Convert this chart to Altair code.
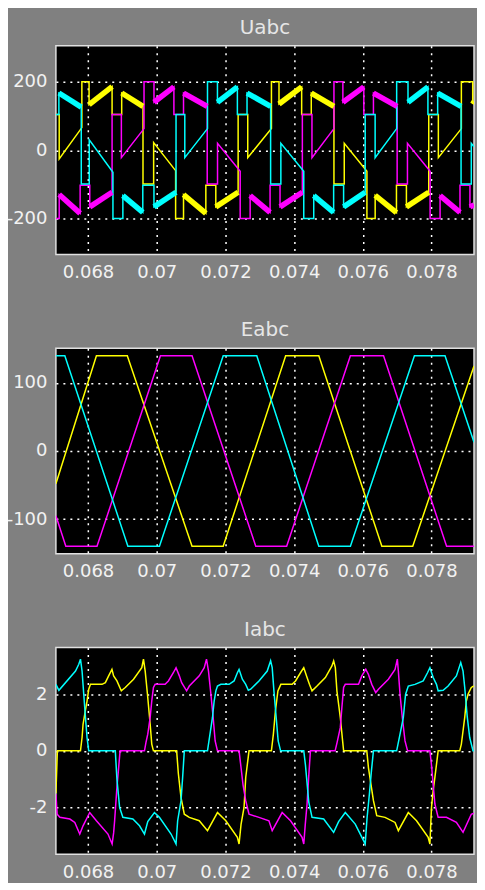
import altair as alt
import pandas as pd

# ---------------- data (time in ms, value) ----------------
# Uabc : phase voltages (a = yellow, b = magenta, c = cyan)
UA = [(67.064,104),(67.16,104),(67.16,-26),(67.82,66),(67.82,200),(68.03,200),(68.03,133),(68.70,186),
      (68.70,104),(68.98,104),(68.98,167),(69.60,128),(69.60,-99),(69.91,-99),(69.91,22),(70.55,-60),
      (70.55,-200),(70.78,-200),(70.78,-130),(71.43,-185),(71.43,-103),(71.72,-103),(71.72,-166),(72.37,-123),
      (72.37,104),(72.65,104),(72.65,-22),(73.34,63),(73.34,200),(73.56,200),(73.56,135),(74.22,185),
      (74.22,104),(74.50,104),(74.50,167),(75.16,128),(75.16,-99),(75.46,-99),(75.46,20),(76.12,-62),
      (76.12,-200),(76.36,-200),(76.36,-132),(76.98,-183),(76.98,-103),(77.27,-103),(77.27,-166),(77.92,-123),
      (77.92,104),(78.20,104),(78.20,-22),(78.87,63),(78.87,200),(79.20,200),(79.20,135),(79.238,142)]
UA_BANDS = [6, 10, 18, 22, 30, 34, 42, 46, 54]

UB = [(67.064,-200),(67.16,-200),(67.16,-130),(67.77,-185),(67.77,-103),(68.05,-103),(68.05,-166),(68.70,-123),
      (68.70,104),(68.97,104),(68.97,-22),(69.63,63),(69.63,200),(69.92,200),(69.92,140),(70.50,185),
      (70.50,104),(70.78,104),(70.78,167),(71.47,128),(71.47,-99),(71.77,-99),(71.77,20),(72.43,-62),
      (72.43,-200),(72.72,-200),(72.72,-133),(73.30,-182),(73.30,-103),(73.59,-103),(73.59,-166),(74.24,-123),
      (74.24,104),(74.52,104),(74.52,-22),(75.16,63),(75.16,200),(75.42,200),(75.42,140),(76.03,185),
      (76.03,104),(76.31,104),(76.31,167),(77.00,128),(77.00,-99),(77.30,-99),(77.30,20),(77.96,-62),
      (77.96,-200),(78.25,-200),(78.25,-133),(78.83,-182),(78.83,-103),(79.12,-103),(79.12,-166),(79.238,-160)]
UB_BANDS = [2, 6, 14, 18, 26, 30, 38, 42, 50, 54]

UC = [(67.064,104),(67.151,104),(67.151,167),(67.803,126),(67.803,-99),(68.035,-99),(68.035,30),(68.725,-65),
      (68.725,-200),(69.014,-200),(69.014,-133),(69.594,-182),(69.594,-103),(69.919,-103),(69.919,-166),(70.562,-123),
      (70.562,104),(70.817,104),(70.817,-22),(71.478,63),(71.478,200),(71.768,200),(71.768,140),(72.348,185),
      (72.348,104),(72.629,104),(72.629,167),(73.316,128),(73.316,-99),(73.614,-99),(73.614,20),(74.281,-62),
      (74.281,-200),(74.571,-200),(74.571,-133),(75.151,-182),(75.151,-103),(75.441,-103),(75.441,-166),(76.070,-123),
      (76.070,104),(76.359,104),(76.359,-22),(76.986,63),(76.986,200),(77.316,200),(77.316,140),(77.896,185),
      (77.896,104),(78.180,104),(78.180,167),(78.861,128),(78.861,-99),(79.159,-99),(79.159,20),(79.238,10)]
UC_BANDS = [2, 10, 14, 22, 26, 34, 38, 46, 50]

# Eabc : back EMF
EA = [(67.064,-48),(68.244,140),(69.143,140),(71.028,-140),(71.935,-140),(73.754,140),(74.719,140),
      (76.555,-140),(77.454,-140),(79.238,125)]
EB = [(67.064,-95),(67.353,-140),(68.261,-140),(70.108,140),(71.028,140),(72.884,-140),(73.783,-140),
      (75.639,140),(76.604,140),(78.44,-140),(79.238,-140)]
EC = [(67.064,140),(67.324,140),(69.16,-140),(70.079,-140),(71.935,140),(72.913,140),(74.719,-140),
      (75.639,-140),(77.503,140),(78.394,140),(79.238,13)]

# Iabc : phase currents
IA = [(67.064,-1.5),(67.107,0),(67.780,0),(67.826,0.47),(67.855,0.94),(67.904,1.3),(67.971,1.76),(68.020,2.18),
      (68.070,2.35),(68.406,2.35),(68.504,2.41),(68.600,2.65),(68.696,2.88),(68.745,2.65),(68.841,2.47),(68.968,2.12),
      (69.084,2.24),(69.325,2.53),(69.565,2.94),(69.614,3.24),(69.664,2.82),(69.730,2.0),(69.809,0.94),(69.855,0.24),
      (69.904,0),(70.580,0),(70.629,-0.8),(70.707,-1.65),(70.803,-2.24),(70.948,-2.35),(71.238,-2.47),(71.478,-2.82),
      (71.768,-2.18),(72.012,-2.47),(72.348,-3.06),(72.397,-3.29),(72.455,-2.6),(72.542,-2.0),(72.591,-0.94),(72.687,0),
      (73.339,0),(73.397,0.6),(73.455,1.4),(73.528,2.12),(73.614,2.35),(73.942,2.35),(74.041,2.47),(74.186,2.76),
      (74.281,2.94),(74.377,2.59),(74.446,2.35),(74.522,2.12),(74.667,2.29),(74.910,2.59),(75.101,3.0),(75.151,3.18),
      (75.200,2.94),(75.246,2.12),(75.345,1.18),(75.412,0.35),(75.441,0),(76.116,0),(76.165,-0.6),(76.252,-1.3),
      (76.310,-1.76),(76.406,-2.29),(76.649,-2.35),(76.939,-2.53),(77.035,-2.82),(77.325,-2.18),(77.565,-2.47),(77.904,-3.06),
      (77.954,-3.29),(78.0,-2.0),(78.049,-1.4),(78.099,-0.94),(78.194,0),(78.823,0),(78.870,0.24),(78.919,0.71),
      (78.968,1.18),(79.014,1.76),(79.064,2.0),(79.159,2.24),(79.238,2.3)]
IB = [(67.064,-1.53),(67.101,-2.24),(67.180,-2.35),(67.470,-2.41),(67.614,-2.53),(67.759,-2.94),(67.855,-2.65),(68.049,-2.18),
      (68.243,-2.47),(68.580,-2.94),(68.701,-3.29),(68.745,-2.9),(68.774,-2.47),(68.841,-1.29),(68.933,0),(69.643,0),
      (69.687,0.3),(69.739,0.59),(69.809,1.18),(69.855,1.76),(69.904,2.24),(69.954,2.35),(70.243,2.35),(70.339,2.47),
      (70.484,2.76),(70.562,2.94),(70.658,2.65),(70.725,2.41),(70.870,2.12),(70.948,2.29),(71.238,2.65),(71.383,2.94),
      (71.449,3.24),(71.507,2.82),(71.577,2.0),(71.643,1.18),(71.701,0.35),(71.768,0),(72.397,0),(72.446,-0.5),
      (72.513,-1.2),(72.591,-1.76),(72.687,-2.24),(72.977,-2.35),(73.267,-2.47),(73.362,-2.82),(73.652,-2.18),(73.896,-2.47),
      (74.232,-3.06),(74.281,-3.29),(74.325,-2.6),(74.377,-1.88),(74.426,-0.9),(74.475,0),(75.194,0),(75.252,0.3),
      (75.345,0.82),(75.391,1.53),(75.441,2.24),(75.490,2.35),(75.875,2.35),(75.971,2.65),(76.087,2.88),(76.165,2.7),
      (76.261,2.35),(76.377,2.06),(76.455,2.18),(76.745,2.53),(76.939,2.88),(77.006,3.24),(77.035,2.82),(77.084,2.0),
      (77.151,1.18),(77.229,0.35),(77.304,0),(77.954,0),(78.0,-0.5),(78.049,-1.2),(78.099,-1.88),(78.194,-2.35),
      (78.435,-2.35),(78.725,-2.53),(78.919,-2.88),(79.159,-2.24),(79.238,-2.2)]
IC = [(67.064,2.35),(67.151,2.14),(67.635,2.82),(67.730,3.06),(67.780,3.24),(67.826,2.82),(67.875,2.0),(67.925,1.18),
      (67.971,0.47),(68.020,0),(68.794,0),(68.841,-1.0),(68.919,-2.0),(69.014,-2.35),(69.304,-2.41),(69.499,-2.65),
      (69.643,-2.94),(69.739,-2.5),(69.933,-2.18),(70.078,-2.35),(70.417,-2.94),(70.562,-3.29),(70.609,-2.47),(70.707,-1.76),
      (70.754,-0.94),(70.803,0),(71.478,0),(71.623,1.18),(71.672,1.76),(71.722,2.12),(71.768,2.29),(71.867,2.35),
      (72.107,2.35),(72.252,2.47),(72.348,2.76),(72.397,2.88),(72.493,2.53),(72.591,2.35),(72.667,2.14),(72.736,2.18),
      (72.977,2.47),(73.217,2.82),(73.316,3.18),(73.362,2.94),(73.412,2.12),(73.478,1.18),(73.536,0.35),(73.606,0),
      (74.281,0),(74.330,-0.5),(74.426,-1.8),(74.522,-2.35),(74.861,-2.41),(75.151,-2.88),(75.296,-2.5),(75.490,-2.18),
      (75.780,-2.59),(76.070,-3.29),(76.122,-2.4),(76.194,-1.5),(76.252,-0.7),(76.310,0),(76.986,0),(77.084,0.59),
      (77.180,1.18),(77.246,2.0),(77.325,2.29),(77.519,2.35),(77.759,2.47),(77.884,2.76),(77.954,2.94),(78.049,2.59),
      (78.145,2.35),(78.194,2.12),(78.339,2.14),(78.484,2.29),(78.725,2.65),(78.852,3.12),(78.919,2.82),(78.968,2.24),
      (79.043,1.18),(79.113,0.47),(79.209,0),(79.238,0)]

TITLES = ["Uabc", "Eabc", "Iabc"]
PHASES = ["a", "b", "c"]
PHASE_COLORS = ["#ffff00", "#ff00ff", "#00ffff"]
X_TICKS = [0.068, 0.070, 0.072, 0.074, 0.076, 0.078]
X_DOMAIN = [0.067064, 0.079238]

PLOT_W = 419


def line_df(series):
    rows = []
    for key, pts in series:
        for i, (t, v) in enumerate(pts):
            rows.append({"t": t / 1000.0, "v": v, "ph": key, "i": i})
    return pd.DataFrame(rows)


def band_df(series):
    rows = []
    for key, pts, idx in series:
        for k, i in enumerate(idx):
            for j in (0, 1):
                t, v = pts[i + j]
                rows.append({"t": t / 1000.0, "v": v, "ph": key, "seg": f"{key}{k}", "i": j})
    return pd.DataFrame(rows)


LABEL_EXPR = "datum.value < 0 ? '-' + format(-datum.value, '~g') : format(datum.value, '~g')"
color_enc = alt.Color("ph:N", scale=alt.Scale(domain=PHASES, range=PHASE_COLORS), legend=None)


def panel(title, df, ydom, yticks, h, bands=None):
    x = alt.X("t:Q", scale=alt.Scale(domain=X_DOMAIN, nice=False, zero=False),
              axis=alt.Axis(values=X_TICKS, format=".3~f", title=None, labelFlush=False))
    y = alt.Y("v:Q", scale=alt.Scale(domain=ydom, nice=False, zero=False),
              axis=alt.Axis(values=yticks, labelExpr=LABEL_EXPR, title=None))
    layers = [alt.Chart(df).mark_line(strokeWidth=1.5, clip=True).encode(
        x=x, y=y, color=color_enc, order=alt.Order("i:Q"))]
    if bands is not None:
        layers.append(alt.Chart(bands).mark_line(strokeWidth=5.5, clip=True, strokeCap="butt").encode(
            x="t:Q", y="v:Q", color=color_enc, detail="seg:N", order=alt.Order("i:Q")))
    layers.append(alt.Chart(pd.DataFrame({"title": [title]})).mark_text(
        font="DejaVu Sans", fontSize=20, color="#e6e6e6", align="center", baseline="alphabetic"
    ).encode(text="title:N", x=alt.value(PLOT_W / 2), y=alt.value(-12)))
    return alt.layer(*layers).properties(width=PLOT_W, height=h)


p1 = panel(TITLES[0], line_df([("a", UA), ("b", UB), ("c", UC)]), [-305, 305], [-200, 0, 200], 209,
           bands=band_df([("a", UA, UA_BANDS), ("b", UB, UB_BANDS), ("c", UC, UC_BANDS)]))
p2 = panel(TITLES[1], line_df([("a", EA), ("b", EB), ("c", EC)]), [-151, 151], [-100, 0, 100], 206)
p3 = panel(TITLES[2], line_df([("a", IA), ("b", IB), ("c", IC)]), [-3.65, 3.65], [-2, 0, 2], 207)

chart = alt.vconcat(p1, p2, p3, spacing=37).properties(
    padding={"left": -3, "top": 8, "right": 2, "bottom": 0}
).configure(background="#808080").configure_view(
    fill="#000000", stroke="#e0e0e0", strokeWidth=1.5
).configure_axis(
    labelColor="#f2f2f2", labelFont="DejaVu Sans", labelFontSize=18, labelPadding=9,
    grid=True, gridColor="#ffffff", gridDash=[2, 5], gridWidth=1.5, gridOpacity=1,
    domain=False, ticks=False
)

chart.save("out.html", embed_options={"renderer": "svg", "actions": False})
